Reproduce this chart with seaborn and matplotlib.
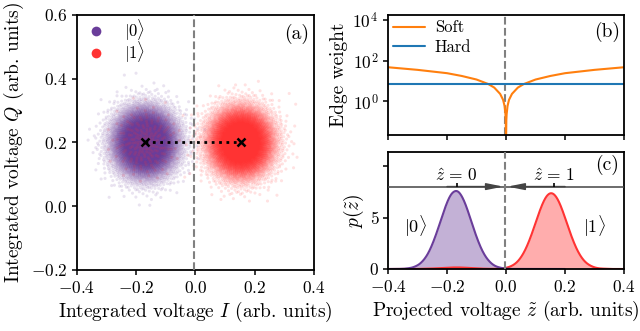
import numpy as np
import pandas as pd
import matplotlib
matplotlib.use("Agg")
import matplotlib.pyplot as plt
from matplotlib.lines import Line2D
import seaborn as sns

# ---------------- data ----------------
state_names = ["|0>", "|1>"]
state_labels = [r"$|0\rangle$", r"$|1\rangle$"]
state_colors = ["#6a3d9a", "#ff3333"]
mean_I = [-0.170, 0.153]          # cloud centres (I)
mean_Q = [0.200, 0.200]           # cloud centres (Q)
spread = [0.052, 0.052]           # cloud std (both quadratures)
n_shots = [10000, 10000]
decay_fraction = [0.0, 0.02]      # share of |1> shots found at the |0> centre
threshold = -0.005                # decision boundary (dashed line)

# edge weights (panel b)
z_weight = [-0.40, -0.30, -0.20, -0.15, -0.10, -0.06, -0.04, -0.02, -0.01,
            -0.005, -0.002, -0.001, 0.0, 0.001, 0.002, 0.005, 0.01, 0.02,
            0.04, 0.06, 0.10, 0.15, 0.20, 0.30, 0.40]
soft_weight = [47, 35, 24, 17.5, 11.7, 7.0, 4.7, 2.3, 1.17, 0.58, 0.23, 0.12,
               0.01, 0.12, 0.23, 0.58, 1.17, 2.3, 4.7, 7.0, 11.7, 17.5, 24,
               35, 47]
z_hard = [-0.40, 0.40]
hard_weight = [6.8, 6.8]

# decision labels (panel c)
zhat_labels = [r"$\hat{z}\,=\,0$", r"$\hat{z}\,=\,1$"]
zhat_pos = [-0.167, 0.163]
arrow_level = 8.0


# deterministic Gaussian cloud (quasi-Monte-Carlo lattice + Box-Muller)
def gaussian_cloud(n, cx, cy, s, phase):
    g = 1.32471795724474602596
    i = np.arange(1, n + 1)
    u = (phase + i / g) % 1.0
    v = (phase * 0.7 + i / g ** 2) % 1.0
    u = np.clip(u, 1e-9, 1.0)
    r = np.sqrt(-2.0 * np.log(u))
    return cx + s * r * np.cos(2 * np.pi * v), cy + s * r * np.sin(2 * np.pi * v)


frames = []
for k in range(2):
    n_main = int(n_shots[k] * (1 - decay_fraction[k]))
    x, y = gaussian_cloud(n_main, mean_I[k], mean_Q[k], spread[k], 0.31 + 0.17 * k)
    frames.append(pd.DataFrame({"I": x, "Q": y, "state": state_names[k]}))
    n_dec = n_shots[k] - n_main
    if n_dec > 0:
        x, y = gaussian_cloud(n_dec, mean_I[0], mean_Q[0], spread[0], 0.77)
        frames.append(pd.DataFrame({"I": x, "Q": y, "state": state_names[k]}))
shots = pd.concat(frames, ignore_index=True)
shots = pd.concat([shots[shots.state == state_names[0]],
                   shots[shots.state == state_names[1]]], ignore_index=True)
palette = dict(zip(state_names, state_colors))

weights = pd.DataFrame({"z": z_weight + z_hard,
                        "w": soft_weight + hard_weight,
                        "kind": ["Soft"] * len(z_weight) + ["Hard"] * len(z_hard)})

# ---------------- style ----------------
sns.set_style("ticks")
plt.rcParams.update({
    "font.family": ["cmr10"],
    "mathtext.fontset": "cm",
    "axes.formatter.use_mathtext": True,
    "axes.unicode_minus": True,
    "axes.linewidth": 1.3,
    "xtick.major.width": 1.1,
    "ytick.major.width": 1.1,
    "xtick.major.size": 3.5,
    "ytick.major.size": 3.5,
    "xtick.labelsize": 12.5,
    "ytick.labelsize": 12.5,
    "axes.labelsize": 14,
    "xtick.color": "black",
    "ytick.color": "black",
    "axes.edgecolor": "black",
    "text.color": "black",
    "axes.labelcolor": "black",
})

fig = plt.figure(figsize=(6.4, 3.31), dpi=100)
ax_a = fig.add_axes([0.1203, 0.1843, 0.3703, 0.7704])
ax_b = fig.add_axes([0.6063, 0.5921, 0.3688, 0.3625])
ax_c = fig.add_axes([0.6063, 0.1873, 0.3688, 0.3535])

# ---------------- panel (a) ----------------
sns.scatterplot(data=shots, x="I", y="Q", hue="state", palette=palette,
                s=5, alpha=0.14, linewidth=0, legend=False, ax=ax_a,
                rasterized=True)
ax_a.axvline(threshold, color="gray", ls="--", lw=1.5, zorder=3)
sns.lineplot(x=mean_I, y=mean_Q, color="black", ls=":", lw=2, ax=ax_a,
             zorder=4, estimator=None, sort=False)
ax_a.plot(mean_I, mean_Q, ls="none", marker="x", color="black", ms=6,
          mew=1.8, zorder=5)
ax_a.set_xlim(-0.4, 0.4)
ax_a.set_ylim(-0.2, 0.6)
ax_a.set_xticks([-0.4, -0.2, 0.0, 0.2, 0.4])
ax_a.set_yticks([-0.2, 0.0, 0.2, 0.4, 0.6])
ax_a.set_xlabel(r"Integrated voltage $I$ (arb. units)", labelpad=3)
ax_a.set_ylabel(r"Integrated voltage $Q$ (arb. units)", labelpad=3)
handles = [Line2D([], [], ls="none", marker="o", ms=7, mew=0,
                  color=c) for c in state_colors]
ax_a.legend(handles, state_labels, loc="upper left", frameon=False,
            fontsize=12, handletextpad=0.7, borderaxespad=0.0,
            borderpad=0.15, labelspacing=-0.15)
ax_a.text(0.925, 0.925, "(a)", transform=ax_a.transAxes, ha="center",
          va="center", fontsize=14)

# ---------------- panel (b) ----------------
sns.lineplot(data=weights, x="z", y="w", hue="kind",
             palette={"Soft": "#ff7f0e", "Hard": "#1f77b4"},
             hue_order=["Soft", "Hard"], lw=1.5, ax=ax_b,
             estimator=None, sort=False)
ax_b.axvline(threshold, color="gray", ls="--", lw=1.5, zorder=0)
ax_b.set_yscale("log")
ax_b.set_ylim(10 ** -1.66, 10 ** 4.24)
ax_b.set_yticks([1, 1e2, 1e4])
ax_b.yaxis.set_minor_locator(matplotlib.ticker.NullLocator())
ax_b.set_xlim(-0.4, 0.4)
ax_b.set_xticks([-0.4, -0.2, 0.0, 0.2, 0.4])
ax_b.set_xticklabels([])
ax_b.set_xlabel("")
ax_b.set_ylabel("Edge weight", labelpad=3)
ax_b.legend(loc="upper left", frameon=False, fontsize=12,
            handletextpad=0.6, borderaxespad=0.0, borderpad=0.3,
            labelspacing=0.25, handlelength=1.9)
ax_b.text(0.93, 0.86, "(b)", transform=ax_b.transAxes, ha="center",
          va="center", fontsize=14)

# ---------------- panel (c) ----------------
sns.kdeplot(data=shots, x="I", hue="state", palette=palette,
            common_norm=False, fill=True, alpha=0.4, linewidth=0,
            cut=20, gridsize=2000, legend=False, ax=ax_c)
sns.kdeplot(data=shots, x="I", hue="state", palette=palette,
            common_norm=False, fill=False, lw=1.5,
            cut=20, gridsize=2000, legend=False, ax=ax_c)
ax_c.axvline(threshold, color="gray", ls="--", lw=1.5, zorder=5)
ax_c.axhline(arrow_level, color="#444444", lw=1.1, zorder=4)
arrow_kw = dict(arrowstyle="-|>,head_length=1.0,head_width=0.2",
                color="#444444", lw=1.1, shrinkA=0, shrinkB=0)
ax_c.annotate("", xy=(threshold - 0.004, arrow_level), xytext=(-0.2, arrow_level),
              arrowprops=arrow_kw, zorder=6)
ax_c.annotate("", xy=(threshold + 0.01, arrow_level), xytext=(0.2, arrow_level),
              arrowprops=arrow_kw, zorder=6)
for lab, xp in zip(zhat_labels, zhat_pos):
    ax_c.plot([xp], [arrow_level + 0.15], marker="|", color="black", ms=3,
              mew=1.2, zorder=6)
    ax_c.text(xp, arrow_level + 0.3, lab, ha="center", va="bottom",
              fontsize=12.5)
ax_c.text(-0.308, 4.2, state_labels[0], ha="center", va="center", fontsize=13)
ax_c.text(0.30, 4.2, state_labels[1], ha="center", va="center", fontsize=13)
ax_c.set_xlim(-0.4, 0.4)
ax_c.set_ylim(0, 11.36)
ax_c.set_xticks([-0.4, -0.2, 0.0, 0.2, 0.4])
ax_c.set_yticks([0, 5, 10])
ax_c.set_yticklabels(["0", "5", ""])
ax_c.set_xlabel(r"Projected voltage $\tilde{z}$ (arb. units)", labelpad=3)
ax_c.set_ylabel(r"$p(\tilde{z})$", labelpad=3)
ax_c.text(0.93, 0.89, "(c)", transform=ax_c.transAxes, ha="center",
          va="center", fontsize=14)

fig.savefig("out.png", dpi=100)
